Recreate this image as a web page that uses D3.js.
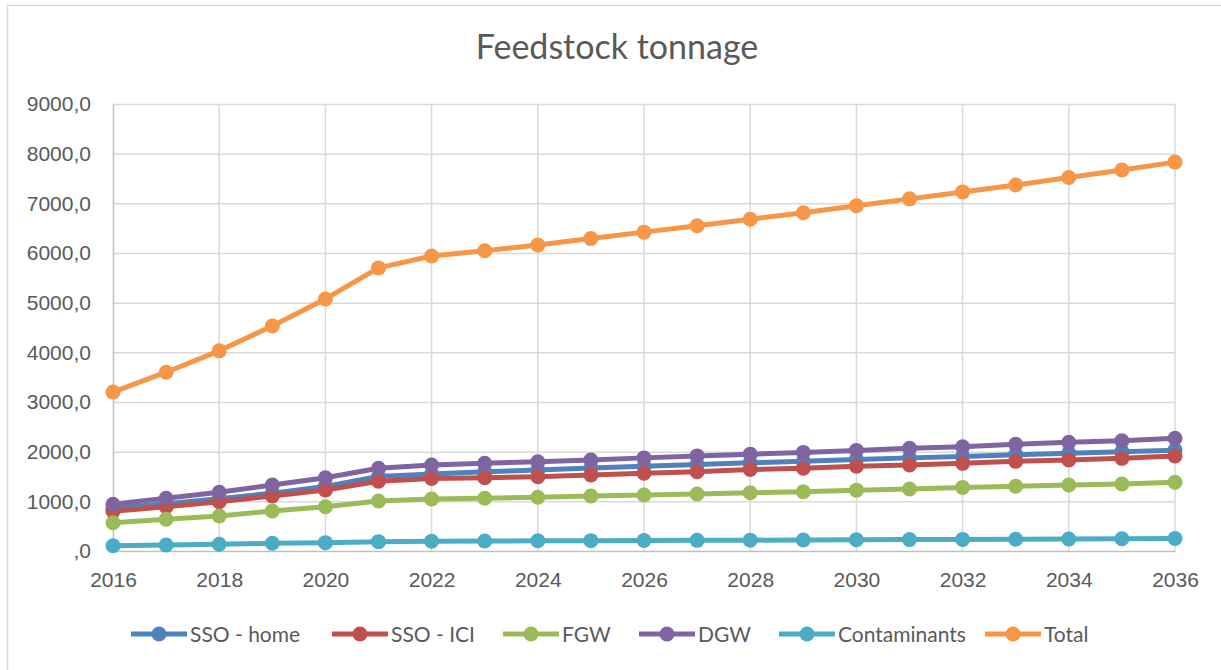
<!DOCTYPE html>
<html>
<head>
<meta charset="utf-8">
<script src="https://cdn.jsdelivr.net/npm/d3@7"></script>
<style>
  html, body { margin: 0; padding: 0; background: #fff; }
  svg { display: block; font-family: Lato, "Open Sans", "Liberation Sans", sans-serif; }
</style>
</head>
<body>
<svg id="chart" width="1221" height="670"></svg>
<script>
const title = "Feedstock tonnage";
const years = [2016,2017,2018,2019,2020,2021,2022,2023,2024,2025,2026,2027,2028,2029,2030,2031,2032,2033,2034,2035,2036];
const seriesNames = ["SSO - home", "SSO - ICI", "FGW", "DGW", "Contaminants", "Total"];
const seriesColors = ["#4F81BD", "#C0504D", "#9BBB59", "#8064A2", "#4BACC6", "#F79646"];
const ssoHome =      [860, 950, 1050, 1165, 1300, 1500, 1550, 1595, 1630, 1670, 1705, 1740, 1775, 1805, 1840, 1875, 1905, 1940, 1970, 2000, 2030];
const ssoICI =       [800, 892, 993, 1107, 1228, 1405, 1460, 1476, 1496, 1530, 1564, 1597, 1640, 1665, 1705, 1731, 1765, 1805, 1832, 1866, 1913];
const fgw =          [570, 638, 705, 805, 892, 1007, 1047, 1061, 1081, 1107, 1127, 1148, 1174, 1194, 1225, 1248, 1280, 1305, 1329, 1349, 1383];
const dgw =          [940, 1061, 1181, 1329, 1476, 1665, 1731, 1765, 1798, 1832, 1875, 1915, 1950, 1985, 2025, 2067, 2100, 2148, 2188, 2221, 2269];
const contaminants = [107, 121, 135, 155, 168, 188, 195, 201, 205, 208, 211, 214, 218, 222, 226, 230, 234, 238, 242, 246, 252];
const total =        [3200, 3600, 4030, 4530, 5075, 5700, 5940, 6045, 6160, 6290, 6420, 6550, 6680, 6810, 6950, 7090, 7230, 7370, 7520, 7670, 7830];
const yTicks = [0,1000,2000,3000,4000,5000,6000,7000,8000,9000];
const xTicks = [2016,2018,2020,2022,2024,2026,2028,2030,2032,2034,2036];

const seriesValues = [ssoHome, ssoICI, fgw, dgw, contaminants, total];

const svg = d3.select("#chart");
const W = 1221, H = 670;
const m = {left: 113, right: 1175, top: 104, bottom: 551};
const textColor = "#595959";

// outer border
svg.append("rect").attr("x", 7.5).attr("y", 5.5).attr("width", W).attr("height", H)
  .attr("fill", "#fff").attr("stroke", "#d9d9d9").attr("stroke-width", 1.5);

const x = d3.scaleLinear().domain([2016, 2036]).range([m.left, m.right]);
const y = d3.scaleLinear().domain([0, 9000]).range([m.bottom, m.top]);

// title
svg.append("text").attr("x", 617).attr("y", 59).attr("text-anchor", "middle")
  .attr("font-size", 34).attr("fill", textColor).text(title);

// gridlines
const grid = svg.append("g");
grid.selectAll("line.h").data(yTicks.filter(d => d > 0)).join("line")
  .attr("x1", m.left).attr("x2", m.right)
  .attr("y1", d => y(d) + 0.5).attr("y2", d => y(d) + 0.5)
  .attr("stroke", "#d9d9d9").attr("stroke-width", 1.5);
grid.selectAll("line.v").data(xTicks.filter(d => d > 2016)).join("line")
  .attr("x1", d => x(d)).attr("x2", d => x(d))
  .attr("y1", m.top).attr("y2", m.bottom)
  .attr("stroke", "#d9d9d9").attr("stroke-width", 1.5);

// axes
const yAxis = d3.axisLeft(y).tickValues(yTicks).tickSize(0).tickPadding(22)
  .tickFormat(d => d === 0 ? ",0" : d3.format("d")(d) + ",0");
const gy = svg.append("g").attr("transform", `translate(${m.left},0)`).call(yAxis);
gy.select(".domain").attr("stroke", "#bfbfbf").attr("stroke-width", 1.5);
gy.selectAll("text").attr("font-size", 21).attr("fill", textColor).attr("font-family", null);

const xAxis = d3.axisBottom(x).tickValues(xTicks).tickSize(0).tickPadding(21).tickFormat(d3.format("d"));
const gx = svg.append("g").attr("transform", `translate(0,${m.bottom})`).call(xAxis);
gx.select(".domain").attr("stroke", "#bfbfbf").attr("stroke-width", 1.5);
gx.selectAll("text").attr("font-size", 21).attr("fill", textColor).attr("font-family", null);

// series
const line = d3.line().x((d, i) => x(years[i])).y(d => y(d));
seriesValues.forEach((vals, si) => {
  const g = svg.append("g");
  g.append("path").datum(vals).attr("d", line)
    .attr("fill", "none").attr("stroke", seriesColors[si]).attr("stroke-width", 5)
    .attr("stroke-linejoin", "round");
  g.selectAll("circle").data(vals).join("circle")
    .attr("cx", (d, i) => x(years[i])).attr("cy", d => y(d)).attr("r", 7.5)
    .attr("fill", seriesColors[si]);
});

// legend
const legendStarts = [131, 332, 503, 639, 779, 985];
const lg = svg.append("g");
seriesNames.forEach((name, i) => {
  const gx0 = legendStarts[i];
  const g = lg.append("g").attr("transform", `translate(${gx0},634)`);
  g.append("line").attr("x1", 0).attr("x2", 56).attr("y1", 0).attr("y2", 0)
    .attr("stroke", seriesColors[i]).attr("stroke-width", 5);
  g.append("circle").attr("cx", 28).attr("cy", 0).attr("r", 7.5).attr("fill", seriesColors[i]);
  g.append("text").attr("x", 59).attr("y", 7.5).attr("font-size", 21).attr("fill", textColor).text(name);
});
</script>
</body>
</html>
